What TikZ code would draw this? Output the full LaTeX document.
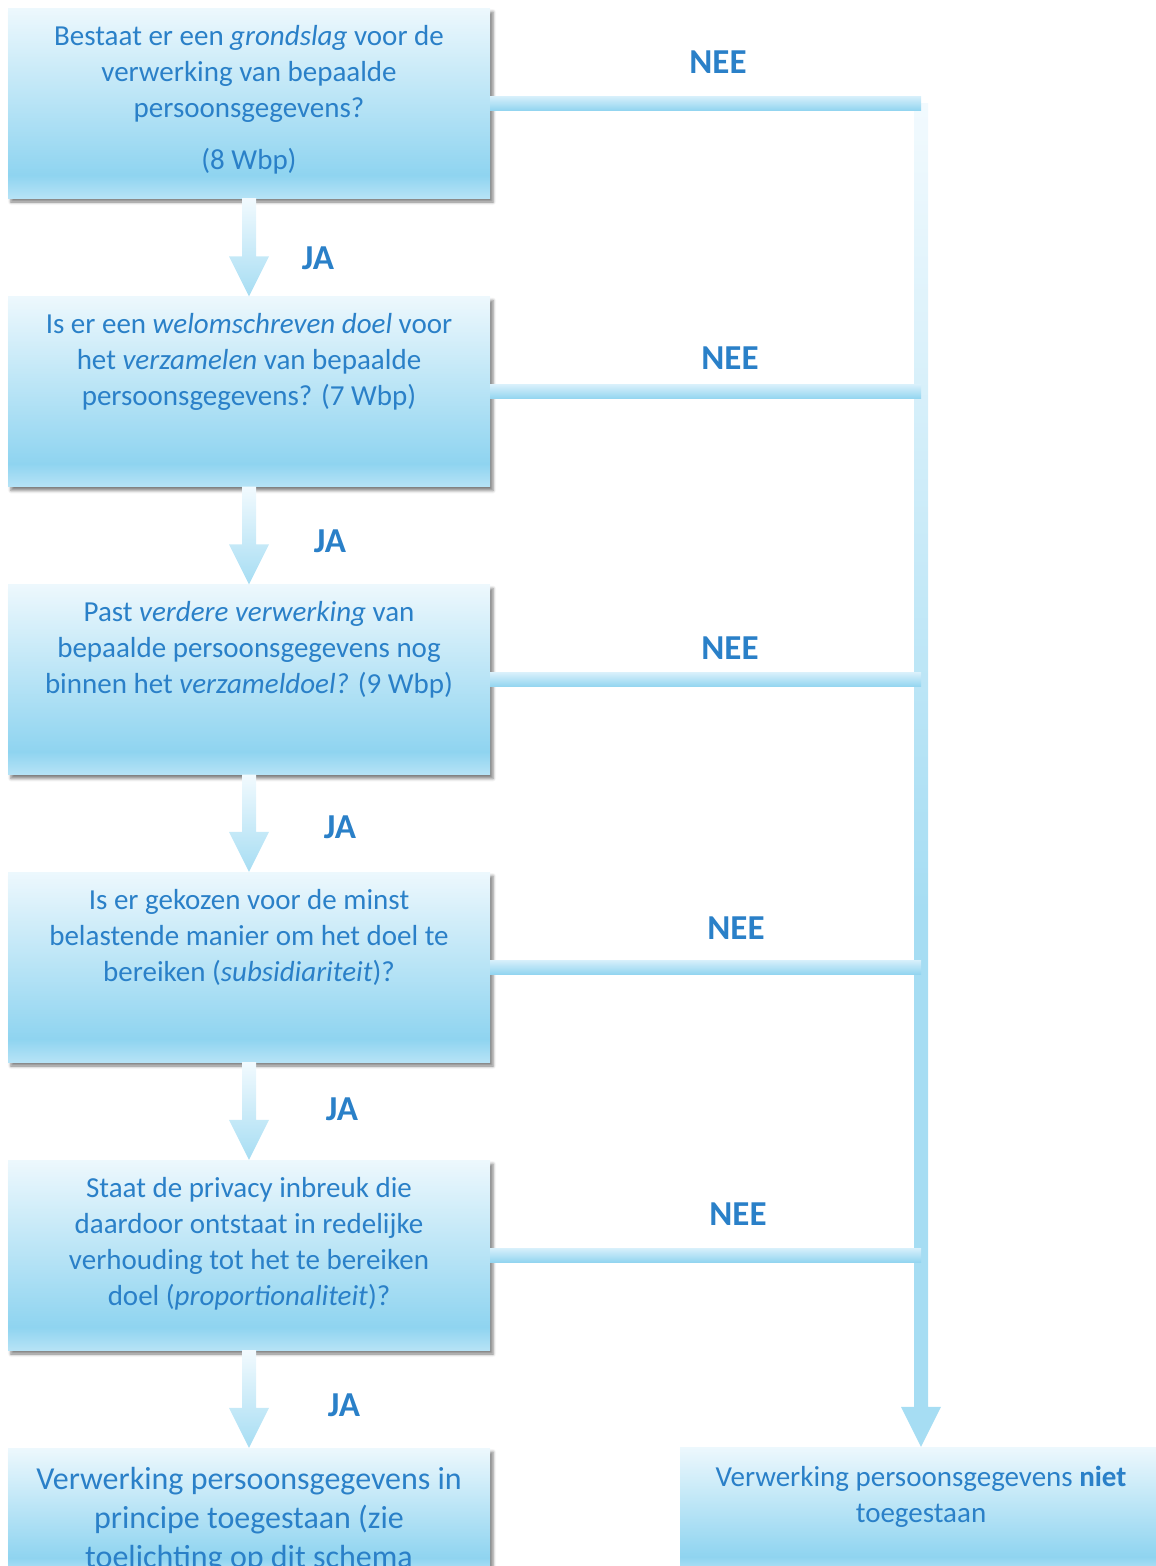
\documentclass[tikz,border=0pt]{standalone}
\usepackage{fontspec}
\setmainfont{Carlito}
\usetikzlibrary{calc,positioning,shadows.blur}

\definecolor{textblue}{HTML}{2A80C8}
\definecolor{boxtop}{HTML}{EDF8FD}
\definecolor{boxdark}{HTML}{8FD4F0}
\definecolor{boxlow}{HTML}{B6E3F6}
\definecolor{arrowtop}{HTML}{F2FAFE}
\definecolor{arrowdark}{HTML}{A6DDF3}
\definecolor{linetop}{HTML}{D8F0FB}
\definecolor{linedark}{HTML}{93D5F0}

\pgfdeclareverticalshading{boxshade}{100bp}{color(0bp)=(boxlow); color(25bp)=(boxlow);
  color(31bp)=(boxdark); color(75bp)=(boxtop); color(100bp)=(boxtop)}
\pgfdeclareverticalshading{neeshade}{100bp}{color(0bp)=(arrowdark); color(45bp)=(arrowdark);
  color(75bp)=(arrowtop); color(100bp)=(arrowtop)}

% wide arrow from #2 (top) to #3 (tip)
\newcommand\flowarrow[3][]{%
  \shade[#1] ($(#2)+(-7,0)$) -- ($(#3)+(-7,-40)$) -- ($(#3)+(-20,-40)$) -- (#3)
    -- ($(#3)+(20,-40)$) -- ($(#3)+(7,-40)$) -- ($(#2)+(7,0)$) -- cycle;}

\begin{document}
\begin{tikzpicture}[x=1pt, y=-1pt,
    box/.style={rectangle, minimum width=482pt, minimum height=190pt, inner sep=0pt,
      shade, shading=boxshade,
      blur shadow={shadow xshift=3pt, shadow yshift=-4pt, shadow blur radius=3pt, shadow opacity=50}},
    boxtext/.style={inner sep=0pt, align=center, text=textblue, font=\fontsize{29}{36}\selectfont},
    answer/.style={text=textblue, font=\fontsize{35}{42}\selectfont\bfseries},
    ja arrow/.style={top color=arrowtop, bottom color=arrowdark},
    nee arrow/.style={shading=neeshade},
    nee line/.style={top color=linetop, bottom color=linedark},
  ]
  \useasboundingbox (0,0) rectangle (1156,1566);
  \clip (0,0) rectangle (1156,1566);

  % Questions
  \node[box] (q1) at (249,103) {};
  \node[boxtext, below=17pt of q1.north] (q1text) {Bestaat er een \textit{grondslag} voor de\\verwerking van bepaalde\\persoonsgegevens?\\[16pt](8 Wbp)};
  \node[box] (q2) at (249,391.5) {};
  \node[boxtext, below=17pt of q2.north] (q2text) {Is er een \textit{welomschreven doel} voor\\het \textit{verzamelen} van bepaalde\\persoonsgegevens? (7 Wbp)};
  \node[box] (q3) at (249,679.5) {};
  \node[boxtext, below=17pt of q3.north] (q3text) {Past \textit{verdere verwerking} van\\bepaalde persoonsgegevens nog\\binnen het \textit{verzameldoel?} (9 Wbp)};
  \node[box] (q4) at (249,967) {};
  \node[boxtext, below=17pt of q4.north] (q4text) {Is er gekozen voor de minst\\belastende manier om het doel te\\bereiken (\textit{subsidiariteit})?};
  \node[box] (q5) at (249,1255) {};
  \node[boxtext, below=17pt of q5.north] (q5text) {Staat de privacy inbreuk die\\daardoor ontstaat in redelijke\\verhouding tot het te bereiken\\doel (\textit{proportionaliteit})?};

  % Outcomes
  \node[box, minimum height=125pt] (allowed) at (249,1510.5) {};
  \node[boxtext, font=\fontsize{32}{39}\selectfont, below=19pt of allowed.north] (allowedtext) {Verwerking persoonsgegevens in\\principe toegestaan (zie\\toelichting op dit schema};
  \node[box, minimum height=125pt] (denied) at (921,1509.5) {};
  \node[boxtext, below=19pt of denied.north] (deniedtext) {Verwerking persoonsgegevens \textbf{niet}\\toegestaan};

  % JA arrows
  \flowarrow[ja arrow]{q1.south}{q2.north}
  \flowarrow[ja arrow]{q2.south}{q3.north}
  \flowarrow[ja arrow]{q3.south}{q4.north}
  \flowarrow[ja arrow]{q4.south}{q5.north}
  \flowarrow[ja arrow]{q5.south}{allowed.north}

  % NEE lines
  \coordinate (neetop) at (q1.east -| denied.north);
  \flowarrow[nee arrow]{neetop}{denied.north}
  \shade[nee line] ($(q1.east)+(0,-7)$) rectangle ($(neetop)+(0,7)$);
  \shade[nee line] ($(q2.east)+(0,-7)$) rectangle ($(q2.east -| neetop)+(0,7)$);
  \shade[nee line] ($(q3.east)+(0,-7)$) rectangle ($(q3.east -| neetop)+(0,7)$);
  \shade[nee line] ($(q4.east)+(0,-7)$) rectangle ($(q4.east -| neetop)+(0,7)$);
  \shade[nee line] ($(q5.east)+(0,-7)$) rectangle ($(q5.east -| neetop)+(0,7)$);

  % Labels
  \node[answer] (ja1) at (318,258) {JA};
  \node[answer] (ja2) at (330,541) {JA};
  \node[answer] (ja3) at (340,827) {JA};
  \node[answer] (ja4) at (342,1109) {JA};
  \node[answer] (ja5) at (344,1405) {JA};
  \node[answer] (nee1) at (718,62) {NEE};
  \node[answer] (nee2) at (730,358) {NEE};
  \node[answer] (nee3) at (730,648) {NEE};
  \node[answer] (nee4) at (736,928) {NEE};
  \node[answer] (nee5) at (738,1214) {NEE};
\end{tikzpicture}
\end{document}
